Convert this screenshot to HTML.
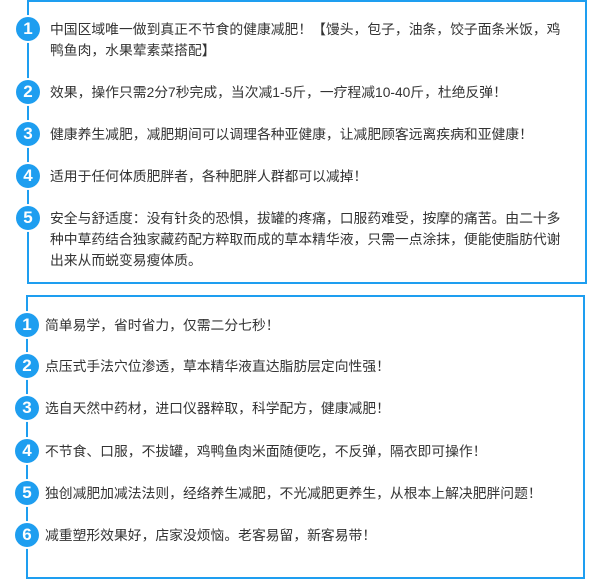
<!DOCTYPE html>
<html><head><meta charset="utf-8"><style>
body{margin:0;width:602px;height:579px;background:#fff;position:relative;overflow:hidden;font-family:"Liberation Sans","Noto Sans CJK SC",sans-serif;}
.box{position:absolute;border:2px solid #1e9ef0;box-sizing:border-box;}
.c{position:absolute;width:24px;height:24px;border-radius:50%;background:#1e9ef0;color:#fff;font-weight:bold;font-size:17px;line-height:24px;text-align:center;box-shadow:0 0 0 2px #fff;}
.t{position:absolute;font-size:13.8px;color:#333;white-space:nowrap;line-height:21px;}
</style></head><body>
<div class="box" style="left:27px;top:0;width:560px;height:284px;"></div>
<div class="box" style="left:26px;top:295px;width:559px;height:284px;"></div>

<div class="c" style="left:16px;top:17px;">1</div>
<div class="t" style="left:50px;top:19px;">中国区域唯一做到真正不节食的健康减肥！【馒头，包子，油条，饺子面条米饭，鸡<br>鸭鱼肉，水果荤素菜搭配】</div>
<div class="c" style="left:16px;top:80px;">2</div>
<div class="t" style="left:50px;top:82px;">效果，操作只需2分7秒完成，当次减1-5斤，一疗程减10-40斤，杜绝反弹！</div>
<div class="c" style="left:16px;top:122px;">3</div>
<div class="t" style="left:50px;top:124px;">健康养生减肥，减肥期间可以调理各种亚健康，让减肥顾客远离疾病和亚健康！</div>
<div class="c" style="left:16px;top:164px;">4</div>
<div class="t" style="left:50px;top:166px;">适用于任何体质肥胖者，各种肥胖人群都可以减掉！</div>
<div class="c" style="left:16px;top:206px;">5</div>
<div class="t" style="left:50px;top:208px;">安全与舒适度：没有针灸的恐惧，拔罐的疼痛，口服药难受，按摩的痛苦。由二十多<br>种中草药结合独家藏药配方粹取而成的草本精华液，只需一点涂抹，便能使脂肪代谢<br>出来从而蜕变易瘦体质。</div>

<div class="c" style="left:15px;top:313px;">1</div>
<div class="t" style="left:45px;top:315px;">简单易学，省时省力，仅需二分七秒！</div>
<div class="c" style="left:15px;top:354px;">2</div>
<div class="t" style="left:45px;top:356px;">点压式手法穴位渗透，草本精华液直达脂肪层定向性强！</div>
<div class="c" style="left:15px;top:396px;">3</div>
<div class="t" style="left:45px;top:398px;">选自天然中药材，进口仪器粹取，科学配方，健康减肥！</div>
<div class="c" style="left:15px;top:439px;">4</div>
<div class="t" style="left:45px;top:441px;">不节食、口服，不拔罐，鸡鸭鱼肉米面随便吃，不反弹，隔衣即可操作！</div>
<div class="c" style="left:15px;top:481px;">5</div>
<div class="t" style="left:45px;top:483px;">独创减肥加减法法则，经络养生减肥，不光减肥更养生，从根本上解决肥胖问题！</div>
<div class="c" style="left:15px;top:523px;">6</div>
<div class="t" style="left:45px;top:525px;">减重塑形效果好，店家没烦恼。老客易留，新客易带！</div>
</body></html>
